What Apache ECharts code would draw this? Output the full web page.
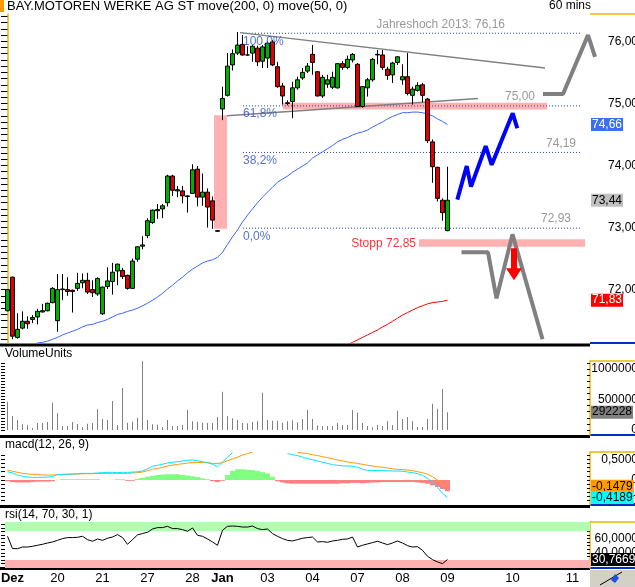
<!DOCTYPE html>
<html>
<head>
<meta charset="utf-8">
<script src="https://cdn.jsdelivr.net/npm/echarts@6/dist/echarts.min.js"></script>
<style>
  html, body { margin: 0; padding: 0; background: #fff; }
  #chart { width: 635px; height: 587px; }
</style>
</head>
<body>
<div id="chart"></div>
<script>
const FONT = "'Liberation Sans', Arial, sans-serif";

// x axis: 89 hourly bars + empty space to the right
const N = 117;
const dayIdx = [1, 10, 19, 28, 37, 43, 52, 61, 70, 79, 88, 101, 113];
const dayNames = ['Dez', '20', '21', '27', '28', 'Jan', '03', '04', '07', '08', '09', '10', '11'];

// candles
const opens = [71.66, 72.20, 71.23, 71.38, 71.49, 71.52, 71.56, 71.64, 71.66, 71.79,
  71.50, 72.00, 72.00, 71.99, 72.02, 72.11, 72.15, 72.00, 71.93, 71.61,
  72.05, 72.13, 72.30, 72.31, 72.23, 72.02, 72.49, 72.70, 72.87, 73.08,
  73.27, 73.30, 73.40, 73.83, 73.59, 73.59, 73.51, 73.55, 73.94, 73.49,
  73.57, 73.43, 72.95, 74.91, 75.13, 75.62, 75.81, 75.95, 75.78, 75.81,
  75.89, 75.68, 75.73, 75.99, 75.59, 75.28, 75.00, 75.03, 75.25, 75.41,
  75.52, 75.79, 75.51, 75.12, 75.31, 75.26, 75.25, 75.64, 75.58, 75.70,
  75.63, 74.95, 75.25, 75.38, 75.78, 75.78, 75.55, 75.46, 75.66, 75.38,
  75.43, 75.13, 75.21, 75.30, 75.07, 74.38, 73.97, 73.44, 72.95];
const closes = [72.00, 71.25, 71.36, 71.49, 71.45, 71.55, 71.65, 71.66, 71.78, 72.02,
  72.00, 72.01, 71.97, 71.97, 72.10, 72.15, 71.96, 71.95, 72.18, 72.04,
  72.14, 72.28, 72.41, 72.21, 72.02, 72.46, 72.69, 72.72, 73.11, 73.28,
  73.29, 73.35, 73.83, 73.60, 73.61, 73.51, 73.50, 73.93, 73.49, 73.57,
  73.33, 73.12, 72.94, 75.08, 75.60, 75.80, 75.94, 75.78, 75.78, 75.92,
  75.67, 75.91, 75.97, 75.62, 75.27, 75.12, 75.01, 75.25, 75.38, 75.50,
  75.60, 75.66, 75.12, 75.42, 75.38, 75.42, 75.64, 75.58, 75.71, 75.79,
  74.95, 75.27, 75.38, 75.71, 75.79, 75.58, 75.45, 75.65, 75.75, 75.43,
  75.16, 75.23, 75.29, 75.13, 74.40, 73.98, 73.47, 73.24, 73.44];
const lows = [71.65, 71.20, 71.21, 71.36, 71.37, 71.46, 71.44, 71.63, 71.65, 71.78,
  71.32, 71.83, 71.90, 71.63, 71.98, 72.02, 71.93, 71.88, 71.90, 71.59,
  72.01, 71.92, 72.07, 72.17, 72.00, 72.01, 72.45, 72.65, 72.83, 73.06,
  73.14, 73.15, 73.34, 73.51, 73.49, 73.39, 73.24, 73.54, 73.34, 73.35,
  73.00, 72.98, 72.93, 74.73, 75.11, 75.53, 75.78, 75.77, 75.77, 75.67,
  75.60, 75.57, 75.57, 75.60, 75.25, 74.98, 74.97, 74.76, 75.22, 75.38,
  75.49, 75.46, 75.11, 75.09, 75.25, 75.23, 75.24, 75.54, 75.55, 75.66,
  74.94, 74.93, 75.11, 75.35, 75.63, 75.54, 75.38, 75.33, 75.62, 75.30,
  75.13, 74.98, 75.19, 75.02, 74.36, 73.72, 73.42, 73.11, 72.94];
const highs = [72.01, 72.21, 71.62, 71.65, 71.57, 71.59, 71.69, 71.77, 71.79, 72.04,
  72.25, 72.25, 72.20, 72.00, 72.27, 72.26, 72.27, 72.15, 72.20, 72.05,
  72.36, 72.43, 72.42, 72.35, 72.24, 72.50, 72.70, 72.86, 73.15, 73.29,
  73.38, 73.38, 73.85, 73.85, 73.67, 73.67, 73.52, 74.02, 73.99, 73.87,
  73.63, 73.50, 72.95, 75.27, 75.81, 75.87, 76.15, 76.10, 75.92, 75.94,
  75.93, 75.94, 76.00, 76.02, 75.67, 75.33, 75.05, 75.35, 75.43, 75.57,
  75.65, 75.94, 75.52, 75.46, 75.46, 75.51, 75.65, 75.68, 75.77, 75.81,
  75.65, 75.28, 75.41, 75.73, 75.86, 75.86, 75.59, 75.67, 75.76, 75.63,
  75.81, 75.27, 75.34, 75.33, 75.09, 74.42, 73.98, 73.47, 73.98];

// moving averages (only the visible part)
const ma50 = Array(5).fill(null).concat([
  71.11, 71.14, 71.15, 71.17, 71.20, 71.23, 71.27, 71.30, 71.33, 71.36,
  71.40, 71.43, 71.44, 71.47, 71.49, 71.52, 71.56, 71.60, 71.62, 71.65,
  71.67, 71.70, 71.74, 71.78, 71.83, 71.88, 71.94, 72.01, 72.07, 72.14,
  72.20, 72.27, 72.33, 72.38, 72.43, 72.46, 72.48, 72.52, 72.60, 72.73,
  72.85, 72.96, 73.09, 73.20, 73.30, 73.40, 73.49, 73.57, 73.65, 73.73,
  73.78, 73.83, 73.89, 73.94, 73.99, 74.04, 74.12, 74.17, 74.22, 74.27,
  74.32, 74.38, 74.42, 74.45, 74.49, 74.52, 74.54, 74.57, 74.62, 74.66,
  74.70, 74.75, 74.79, 74.82, 74.85, 74.85, 74.86, 74.86, 74.85, 74.83,
  74.80, 74.75, 74.71, 74.66]);
const ma200 = Array(68).fill(null).concat([
  71.11, 71.15, 71.19, 71.23, 71.27, 71.31, 71.35, 71.40, 71.44, 71.49,
  71.54, 71.59, 71.63, 71.67, 71.71, 71.74, 71.77, 71.79, 71.80, 71.81, 71.83]);

// volume in thousands
const volume = [464, 230, 164, 93, 77, 33, 115, 115, 131, 448,
  279, 66, 66, 131, 98, 49, 104, 115, 344, 180,
  164, 475, 82, 689, 120, 137, 197, 1131, 164, 93,
  87, 49, 164, 66, 66, 82, 328, 142, 137, 120,
  115, 115, 213, 628, 224, 191, 164, 115, 109, 131,
  148, 612, 164, 153, 153, 120, 142, 159, 126, 180,
  328, 180, 77, 66, 66, 66, 115, 82, 82, 328,
  284, 115, 66, 44, 82, 66, 148, 82, 317, 180,
  213, 148, 49, 49, 180, 432, 350, 672, 292.228];

// macd(12,26,9)
const macd = [0.20, 0.17, 0.12, 0.09, 0.07, 0.064, 0.064, 0.064, 0.07, 0.08,
  0.13, 0.137, 0.14, 0.145, 0.15, 0.16, 0.16, 0.16, 0.17, 0.177,
  0.185, 0.185, 0.177, 0.185, 0.185, 0.19, 0.20, 0.217, 0.27, 0.33,
  0.355, 0.38, 0.41, 0.426, 0.443, 0.46, 0.475, 0.483, 0.467, 0.443,
  0.42, 0.38, 0.32, 0.43, 0.55, 0.66, null, null, null, null,
  null, null, null, null, null, null, 0.64, 0.61, 0.59, 0.55,
  0.515, 0.49, 0.46, 0.43, 0.40, 0.37, 0.355, 0.34, 0.34, 0.33,
  0.31, 0.258, 0.234, 0.225, 0.234, 0.225, 0.225, 0.217, 0.217, 0.21,
  0.193, 0.177, 0.153, 0.113, 0.04, -0.056, -0.18, -0.32, -0.4189];
const signal = [0.242, 0.21, 0.185, 0.16, 0.145, 0.137, 0.13, 0.12, 0.12, 0.12,
  0.13, 0.133, 0.137, 0.14, 0.145, 0.15, 0.153, 0.153, 0.157, 0.16,
  0.16, 0.16, 0.16, 0.16, 0.16, 0.168, 0.177, 0.193, 0.225, 0.258,
  0.28, 0.306, 0.338, 0.36, 0.378, 0.39, 0.41, 0.42, 0.424, 0.42,
  0.42, 0.40, 0.40, 0.42, 0.467, 0.507, 0.55, 0.60, 0.64, 0.668,
  null, null, null, null, null, null, null, null, 0.668, 0.65,
  0.64, 0.61, 0.59, 0.564, 0.54, 0.515, 0.483, 0.46, 0.435, 0.42,
  0.40, 0.378, 0.355, 0.34, 0.32, 0.306, 0.29, 0.27, 0.258, 0.25,
  0.242, 0.225, 0.20, 0.177, 0.137, 0.08, 0.0, -0.08, -0.1479];
const hist = [-0.03, -0.05, -0.06, -0.06, -0.06, -0.05, -0.04, -0.04, -0.04, -0.03,
  0, 0.02, 0.02, 0.02, 0.02, 0.02, 0.02, 0.02, 0.02, 0,
  0, 0, 0.02, 0.02, -0.02, -0.02, 0.03, 0.05, 0.08, 0.10,
  0.12, 0.13, 0.14, 0.14, 0.14, 0.12, 0.11, 0.09, 0.07, 0.04,
  0.02, -0.03, -0.05, -0.02, 0.12, 0.22, 0.26, 0.26, 0.25, 0.24,
  0.22, 0.19, 0.16, 0.08, -0.03, -0.06, -0.08, -0.09, -0.09, -0.09,
  -0.09, -0.09, -0.09, -0.09, -0.09, -0.09, -0.09, -0.08, -0.08, -0.07,
  -0.07, -0.08, -0.07, -0.06, -0.06, -0.05, -0.05, -0.05, -0.05, -0.05,
  -0.05, -0.05, -0.06, -0.07, -0.09, -0.13, -0.17, -0.22, -0.27];

// rsi(14,70,30,1)
const rsi = [63.1, 46.0, 45.9, 48.2, 48.2, 49.2, 50.6, 52.0, 53.8, 55.2,
  57.5, 59.9, 61.3, 61.3, 61.7, 63.1, 58.5, 56.2, 59.4, 57.5,
  60.4, 62.1, 65.5, 61.3, 52.0, 58.5, 65.1, 66.9, 68.7, 73.3,
  75.2, 75.2, 77.0, 73.8, 73.8, 72.4, 70.1, 74.7, 64.5, 63.1,
  59.4, 55.2, 50.6, 71.5, 77.0, 77.4, 77.0, 76.0, 76.0, 77.4,
  73.8, 72.4, 73.3, 66.9, 63.1, 59.9, 57.5, 56.6, 58.5, 60.4,
  61.3, 62.1, 55.2, 55.7, 54.7, 56.6, 57.5, 58.9, 59.4, 62.1,
  48.2, 50.6, 52.5, 54.3, 56.2, 53.8, 51.5, 53.8, 56.6, 53.8,
  50.1, 48.2, 48.7, 43.6, 35.3, 30.7, 27.4, 25.1, 30.7669];

// drawn annotations, in [bar position, price]
const fibLevels = [76.13, 74.96, 74.21, 72.99];
const fibNames = ['100,0%', '61,8%', '38,2%', '0,0%'];
const fibSpan = [47.1, 114.5];
const upperTrend = [[46.5, 76.14], [107.5, 75.57]];
const lowerTrend = [[43.9, 74.80], [94.1, 75.08]];
const bluePath = [[89.96, 73.45], [91.84, 73.99], [92.7, 73.66], [95.64, 74.31], [96.84, 74.01], [101.04, 74.84], [101.96, 74.60]];
const greyPathLow = [[90.8, 72.60], [96.1, 72.60], [97.8, 71.86], [101, 72.89], [107, 71.20]];
const greyPathHigh = [[107.1, 75.15], [111.1, 75.15], [116.1, 76.10], [117.5, 75.75]];
const zones = [
  [[41.3, 72.98], [43.9, 74.81]],
  [[55.1, 74.90], [107.9, 75.01]],
  [[82.3, 72.69], [115.5, 72.81]]
];
const arrowAt = [101.3, 72.41];
const notes = [
  { at: [99.5, 76.27], text: 'Jahreshoch 2013: 76,16', color: '#808080', align: 'right' },
  { at: [105.5, 75.11], text: '75,00', color: '#808080', align: 'right' },
  { at: [113.7, 74.35], text: '74,19', color: '#808080', align: 'right' },
  { at: [112.7, 73.14], text: '72,93', color: '#808080', align: 'right' },
  { at: [81.7, 72.74], text: 'Stopp 72,85', color: '#ff0000', align: 'right' },
  { at: [47.1, 75.99], text: fibNames[0], color: '#2a4fc0', align: 'left' },
  { at: [47.1, 74.83], text: fibNames[1], color: '#2a4fc0', align: 'left' },
  { at: [47.1, 74.08], text: fibNames[2], color: '#2a4fc0', align: 'left' },
  { at: [47.1, 72.85], text: fibNames[3], color: '#2a4fc0', align: 'left' }
];

// layout
const L = 5, W = 585, R = L + W;
const grids = [
  { top: 14, height: 329 },
  { top: 361, height: 74 },
  { top: 452, height: 53 },
  { top: 522, height: 46 }
];
const PMIN = 71.14, PMAX = 76.44;

const cats = Array.from({ length: N }, (_, i) => 'b' + i);
const dayOf = {};
dayIdx.forEach((d, k) => { dayOf['b' + d] = dayNames[k]; });

const steps = (a, b, s) => {
  const out = [];
  for (let v = a; v <= b + 1e-9; v += s) out.push(Math.round(v * 10000) / 10000);
  return out;
};
const comma = (v, d) => v.toFixed(d).replace('.', ',');

function rightAxis(g, min, max, labels, fmt, ticks) {
  return {
    type: 'value', gridIndex: g, position: 'right', min, max,
    splitLine: { show: false },
    axisLine: { show: true, lineStyle: { color: '#f0b400', width: 1.5 } },
    axisTick: { show: true, inside: true, length: 3, customValues: ticks, lineStyle: { color: '#000' } },
    axisLabel: { customValues: labels, formatter: fmt, align: 'right', margin: 48, color: '#000', fontSize: 12, fontFamily: FONT }
  };
}
function leftAxis(g, min, max, ticks) {
  return {
    type: 'value', gridIndex: g, position: 'left', min, max,
    splitLine: { show: false }, axisLine: { show: false },
    axisTick: { show: true, length: 4, customValues: ticks, lineStyle: { color: '#000' } },
    axisLabel: { show: false }
  };
}
function tag(value, text, bg, fg) {
  return {
    yAxis: value,
    lineStyle: { color: 'rgba(0,0,0,0)', width: 0 },
    label: { formatter: text, backgroundColor: bg, color: fg }
  };
}
const tagStyle = (items) => ({
  symbol: 'none', silent: true, animation: false,
  lineStyle: { color: 'rgba(0,0,0,0)' },
  label: { show: true, position: 'end', distance: 1, padding: [0, 1, 0, 1], fontSize: 12, fontFamily: FONT, lineHeight: 13 },
  data: items
});

const last = closes.length - 1;
const xAxes = grids.map((g, k) => ({
  type: 'category', gridIndex: k, data: cats, boundaryGap: true,
  axisLine: { show: false }, axisTick: { show: false },
  axisLabel: k === 3 ? {
    interval: (idx) => dayIdx.includes(idx),
    formatter: (v) => {
      const t = dayOf[v] || '';
      return (t === 'Dez' || t === 'Jan') ? '{b|' + t + '}' : t;
    },
    margin: 4, color: '#000', fontSize: 13, fontFamily: FONT,
    rich: { b: { fontWeight: 'bold', fontSize: 13, fontFamily: FONT } }
  } : { show: false }
}));
// value axis over the price grid for drawn annotations
xAxes.push({ type: 'value', gridIndex: 0, min: -0.5, max: N - 0.5, show: false });
// wider overlay (same scale) for the drawing that runs into the axis area
xAxes.push({ type: 'value', gridIndex: 4, min: -0.5, max: (635 - L) / 5 - 0.5, show: false });

const yAxes = [
  rightAxis(0, PMIN, PMAX, [72, 73, 74, 75, 76], (v) => comma(v, 2), steps(71.2, 76.4, 0.1)),
  leftAxis(0, PMIN, PMAX, steps(71.2, 76.4, 0.1)),
  rightAxis(1, -82000, 1131000, [0, 500000, 1000000], (v) => String(v), steps(0, 1100000, 100000)),
  leftAxis(1, -82000, 1131000, steps(0, 1100000, 50000)),
  rightAxis(2, -0.604, 0.676, [-0.5, 0, 0.5], (v) => v === 0 ? '0' : comma(v, 4), steps(-0.6, 0.6, 0.1)),
  leftAxis(2, -0.604, 0.676, steps(-0.6, 0.6, 0.1)),
  rightAxis(3, 19, 83, [40, 60], (v) => comma(v, 4), steps(20, 80, 5)),
  leftAxis(3, 19, 83, steps(20, 80, 5)),
  { type: 'value', gridIndex: 4, min: PMIN, max: PMAX, show: false }
];

const ann = { xAxisIndex: 4, yAxisIndex: 0, symbol: 'none', silent: true };
const series = [
  {
    type: 'line', ...ann, data: [], z: 1,
    markArea: {
      silent: true, itemStyle: { color: '#ffb0b0' },
      data: zones.map((z) => [{ coord: z[0] }, { coord: z[1] }])
    }
  },
  {
    type: 'candlestick', xAxisIndex: 0, yAxisIndex: 0, barWidth: 4, z: 3,
    data: opens.map((o, i) => [o, closes[i], lows[i], highs[i]]),
    itemStyle: {
      color: '#00b000', color0: '#e00000',
      borderColor: '#000', borderColor0: '#000', borderColorDoji: '#000', borderWidth: 1
    },
    markLine: tagStyle([tag(closes[last], comma(closes[last], 2), '#c0c0c0', '#000')])
  },
  {
    type: 'line', xAxisIndex: 0, yAxisIndex: 0, data: ma50, symbol: 'none', z: 2,
    lineStyle: { color: '#3a66ff', width: 1 },
    markLine: tagStyle([tag(ma50[last], comma(ma50[last], 2), '#3a6ff0', '#fff')])
  },
  {
    type: 'line', xAxisIndex: 0, yAxisIndex: 0, data: ma200, symbol: 'none', z: 2,
    lineStyle: { color: '#ff0000', width: 1 },
    markLine: tagStyle([tag(ma200[last], comma(ma200[last], 2), '#ff0000', '#fff')])
  }
];

fibLevels.forEach((lv) => {
  series.push({
    type: 'line', ...ann, z: 2,
    data: [[fibSpan[0], lv], [fibSpan[1], lv]],
    lineStyle: { color: '#2346b4', width: 1, type: [1, 2] }
  });
});
[upperTrend, lowerTrend].forEach((t) => {
  series.push({ type: 'line', ...ann, z: 2, data: t, lineStyle: { color: '#808080', width: 1.5 } });
});
series.push({ type: 'line', ...ann, z: 4, data: bluePath, lineStyle: { color: '#0000ff', width: 4 } });
series.push({ type: 'line', ...ann, z: 4, data: greyPathLow, lineStyle: { color: '#808080', width: 4 } });
series.push({
  type: 'line', xAxisIndex: 5, yAxisIndex: 8, symbol: 'none', silent: true, z: 4,
  data: greyPathHigh, lineStyle: { color: '#808080', width: 4 }
});
series.push({
  type: 'line', ...ann, data: [], z: 5,
  markPoint: {
    silent: true, animation: false,
    data: [{
      coord: arrowAt, symbol: 'path://M5,0 L11,0 L11,20 L16,20 L8,32 L0,20 L5,20 Z',
      symbolSize: [16, 32], itemStyle: { color: '#ff0000' }, label: { show: false }
    }]
  }
});
series.push({
  type: 'scatter', xAxisIndex: 4, yAxisIndex: 0, symbolSize: 0, silent: true, z: 6,
  data: notes.map((n) => ({
    value: n.at,
    label: {
      show: true, position: [0, 0], formatter: n.text, color: n.color, align: n.align,
      verticalAlign: 'middle', fontSize: 12, fontFamily: FONT
    }
  }))
});

// volume
series.push({
  type: 'bar', xAxisIndex: 1, yAxisIndex: 2, barWidth: 1,
  data: volume.map((v) => Math.round(v * 1000)),
  itemStyle: { color: '#808080' },
  markLine: tagStyle([tag(Math.round(volume[last] * 1000), String(Math.round(volume[last] * 1000)), '#808080', '#000')])
});

// macd
series.push({
  type: 'bar', xAxisIndex: 2, yAxisIndex: 4, barCategoryGap: '0%',
  data: hist.map((v) => ({ value: v, itemStyle: { color: v >= 0 ? '#80ff80' : '#ff8080' } }))
});
series.push({
  type: 'line', xAxisIndex: 2, yAxisIndex: 4, data: signal, symbol: 'none',
  lineStyle: { color: '#ff9900', width: 1 },
  markLine: tagStyle([tag(signal[last], comma(signal[last], 4), '#ff9900', '#000')])
});
series.push({
  type: 'line', xAxisIndex: 2, yAxisIndex: 4, data: macd, symbol: 'none',
  lineStyle: { color: '#00e5ff', width: 1 },
  markLine: tagStyle([tag(macd[last], comma(macd[last], 4), '#00ffff', '#000')])
});

// rsi
series.push({
  type: 'line', xAxisIndex: 3, yAxisIndex: 6, data: rsi, symbol: 'none',
  lineStyle: { color: '#000', width: 1 },
  markArea: {
    silent: true,
    data: [
      [{ yAxis: 70, itemStyle: { color: '#b0ffb0' } }, { yAxis: 83 }],
      [{ yAxis: 19, itemStyle: { color: '#ffb0b0' } }, { yAxis: 30 }]
    ]
  },
  markLine: tagStyle([tag(rsi[last], comma(rsi[last], 4), '#000', '#fff')])
});

// frame pieces
const graphic = [{ type: 'rect', shape: { x: 0, y: 0, width: 4, height: 12 }, style: { fill: '#ff9900' } }];
[345, 436.5, 506.5, 568.5].forEach((y) => {
  graphic.push({ type: 'line', shape: { x1: 0, y1: y, x2: R, y2: y }, style: { stroke: '#000', lineWidth: 3 } });
});
grids.forEach((g) => {
  graphic.push({ type: 'line', shape: { x1: R, y1: g.top, x2: 635, y2: g.top }, style: { stroke: '#f0b400', lineWidth: 1.5 } });
  graphic.push({ type: 'line', shape: { x1: R, y1: g.top + g.height, x2: 635, y2: g.top + g.height }, style: { stroke: '#0030c0', lineWidth: 2 } });
});
graphic.push({ type: 'rect', shape: { x: R, y: 570, width: 635 - R, height: 17 }, style: { fill: '#d4d0c8' } });
graphic.push({ type: 'line', shape: { x1: 600, y1: 585, x2: 622, y2: 572 }, style: { stroke: '#000', lineWidth: 1 } });
graphic.push({ type: 'polygon', shape: { points: [[611, 580], [615, 574], [619, 578], [615, 583]] }, style: { fill: '#2050e0' } });

const titleStyle = { fontSize: 12, fontWeight: 'normal', color: '#000', fontFamily: FONT };
const option = {
  animation: false,
  backgroundColor: '#fff',
  title: [
    { text: 'BAY.MOTOREN WERKE AG ST move(200, 0) move(50, 0)', left: 7, top: 0, padding: 0, textStyle: { ...titleStyle, fontSize: 13 } },
    { text: '60 mins', left: 549, top: 0, padding: 0, textStyle: titleStyle },
    { text: 'VolumeUnits', left: 5, top: 348, padding: 0, textStyle: titleStyle },
    { text: 'macd(12, 26, 9)', left: 5, top: 439, padding: 0, textStyle: titleStyle },
    { text: 'rsi(14, 70, 30, 1)', left: 5, top: 509, padding: 0, textStyle: titleStyle }
  ],
  grid: grids.map((g) => ({ left: L, width: W, top: g.top, height: g.height, outerBoundsMode: 'none' }))
    .concat([{ left: L, width: 635 - L, top: grids[0].top, height: grids[0].height, outerBoundsMode: 'none' }]),
  xAxis: xAxes,
  yAxis: yAxes,
  series,
  graphic
};

const chart = echarts.init(document.getElementById('chart'), null, { renderer: 'canvas' });
chart.setOption(option);
</script>
</body>
</html>
